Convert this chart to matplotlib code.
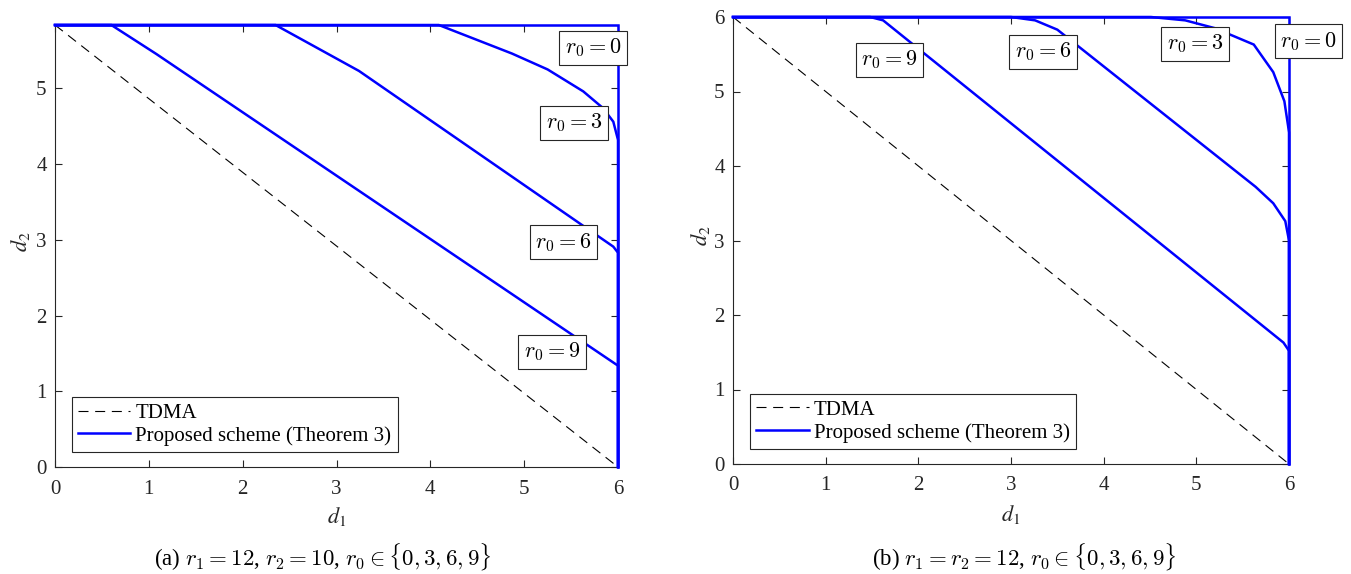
import matplotlib
matplotlib.use("Agg")
import matplotlib.pyplot as plt

plt.rcParams['font.family'] = ['Liberation Serif', 'DejaVu Serif']
plt.rcParams['mathtext.fontset'] = 'stix'

# ---------------- data (a) r1=12, r2=10 ----------------
ymax_a = 5.837
a_r0 = ["0", "3", "6", "9"]
a_d1_r0_0 = [0, 6.0, 6.0]
a_d2_r0_0 = [ymax_a, ymax_a, 0]
a_d1_r0_3 = [0, 4.09, 4.87, 5.25, 5.63, 5.84, 5.95, 6.0, 6.0]
a_d2_r0_3 = [ymax_a, ymax_a, 5.46, 5.25, 4.96, 4.74, 4.56, 4.32, 0]
a_d1_r0_6 = [0, 2.35, 3.24, 5.95, 6.0, 6.0]
a_d2_r0_6 = [ymax_a, ymax_a, 5.23, 2.91, 2.83, 0]
a_d1_r0_9 = [0, 0.60, 1.08, 6.0, 6.0]
a_d2_r0_9 = [ymax_a, ymax_a, 5.454, 1.338, 0]
a_tdma_d1 = [0, 6.0]
a_tdma_d2 = [ymax_a, 0]
a_label_x = [5.735, 5.532, 5.42, 5.296]
a_label_y = [5.533, 4.542, 2.969, 1.518]

# ---------------- data (b) r1=r2=12 ----------------
ymax_b = 6.0
b_d1_r0_0 = [0, 6.0, 6.0]
b_d2_r0_0 = [ymax_b, ymax_b, 0]
b_d1_r0_3 = [0, 4.51, 4.88, 5.20, 5.62, 5.83, 5.95, 5.99, 6.0, 6.0]
b_d2_r0_3 = [ymax_b, ymax_b, 5.955, 5.85, 5.63, 5.26, 4.87, 4.54, 4.45, 0]
b_d1_r0_6 = [0, 3.0, 3.26, 3.50, 5.64, 5.83, 5.96, 6.0, 6.0]
b_d2_r0_6 = [ymax_b, ymax_b, 5.955, 5.83, 3.72, 3.50, 3.26, 3.0, 0]
b_d1_r0_9 = [0, 1.48, 1.62, 5.94, 6.0, 6.0]
b_d2_r0_9 = [ymax_b, ymax_b, 5.955, 1.63, 1.52, 0]
b_tdma_d1 = [0, 6.0]
b_tdma_d2 = [ymax_b, 0]
b_label_x = [6.209, 4.988, 3.343, 1.687]
b_label_y = [5.674, 5.638, 5.535, 5.428]

x_ticks = [0, 1, 2, 3, 4, 5, 6]
a_y_ticks = [0, 1, 2, 3, 4, 5]
b_y_ticks = [0, 1, 2, 3, 4, 5, 6]

captions = [r"(a) $r_1 = 12$, $r_2 = 10$, $r_0 \in \{0, 3, 6, 9\}$",
            r"(b) $r_1 = r_2 = 12$, $r_0 \in \{0, 3, 6, 9\}$"]

W, H = 1351, 574
fig = plt.figure(figsize=(W / 100, H / 100), dpi=100)
ax_a = fig.add_axes([55 / W, 1 - 467 / H, 563 / W, 442 / H])
ax_b = fig.add_axes([733 / W, 1 - 464 / H, 556 / W, 447 / H])

gray = (0.15, 0.15, 0.15)
blue = (0, 0, 1)


def style(ax, ymax, yticks, ylab_x, xlab_y):
    ax.set_xlim(0, 6)
    ax.set_ylim(0, ymax)
    ax.set_xticks(x_ticks)
    ax.set_yticks(yticks)
    ax.tick_params(direction='in', top=True, right=True, length=5, width=0.8,
                   colors=gray, labelsize=15)
    ax.tick_params(axis='x', pad=9)
    ax.tick_params(axis='y', pad=6)
    for s in ax.spines.values():
        s.set_color(gray)
        s.set_linewidth(0.8)
    ax.set_xlabel(r"$d_1$", fontsize=16, color=gray)
    ax.set_ylabel(r"$d_2$", fontsize=16, color=gray)
    ax.xaxis.set_label_coords(0.5, xlab_y)
    ax.yaxis.set_label_coords(ylab_x, 0.51)
    ax.xaxis.label.set_va('center')
    ax.yaxis.label.set_va('center')


def draw(ax, curves, tdma, labels_xy, ymax, yticks, legend_anchor, ylab_x, xlab_y):
    style(ax, ymax, yticks, ylab_x, xlab_y)
    l_tdma, = ax.plot(tdma[0], tdma[1], color='black', lw=0.8, ls=(0, (9, 6)),
                      label='TDMA', zorder=2)
    handles = [l_tdma]
    for i, (xs, ys) in enumerate(curves):
        ln, = ax.plot(xs, ys, color=blue, lw=1.8, clip_on=False, zorder=3,
                      solid_joinstyle='miter',
                      label='Proposed scheme (Theorem 3)' if i == 0 else None)
        if i == 0:
            handles.append(ln)
    for r0, lx, ly in zip(a_r0, labels_xy[0], labels_xy[1]):
        ax.text(lx, ly, r"$r_0 = %s$" % r0, fontsize=16, ha='center', va='center',
                math_fontfamily='cm', clip_on=False, zorder=5,
                bbox=dict(boxstyle='square,pad=0.25', fc='white', ec=gray, lw=0.8))
    leg = ax.legend(handles=handles, loc='lower left', bbox_to_anchor=legend_anchor,
                    borderaxespad=0, fancybox=False, framealpha=1, edgecolor=gray,
                    fontsize=15, handlelength=2.5, handletextpad=0.25,
                    labelspacing=0.15, borderpad=0.3)
    leg.get_frame().set_linewidth(0.8)


draw(ax_a,
     [(a_d1_r0_0, a_d2_r0_0), (a_d1_r0_3, a_d2_r0_3), (a_d1_r0_6, a_d2_r0_6),
      (a_d1_r0_9, a_d2_r0_9)],
     (a_tdma_d1, a_tdma_d2), (a_label_x, a_label_y), ymax_a, a_y_ticks,
     (0.030, 0.034), -0.062, -0.113)
draw(ax_b,
     [(b_d1_r0_0, b_d2_r0_0), (b_d1_r0_3, b_d2_r0_3), (b_d1_r0_6, b_d2_r0_6),
      (b_d1_r0_9, b_d2_r0_9)],
     (b_tdma_d1, b_tdma_d2), (b_label_x, b_label_y), ymax_b, b_y_ticks,
     (0.031, 0.034), -0.059, -0.114)

fig.text(323 / W, 1 - 557 / H, captions[0], ha='center', va='center', fontsize=16.5,
         math_fontfamily='cm')
fig.text(1024 / W, 1 - 557 / H, captions[1], ha='center', va='center', fontsize=16.5,
         math_fontfamily='cm')

fig.savefig("out.png", dpi=100)
